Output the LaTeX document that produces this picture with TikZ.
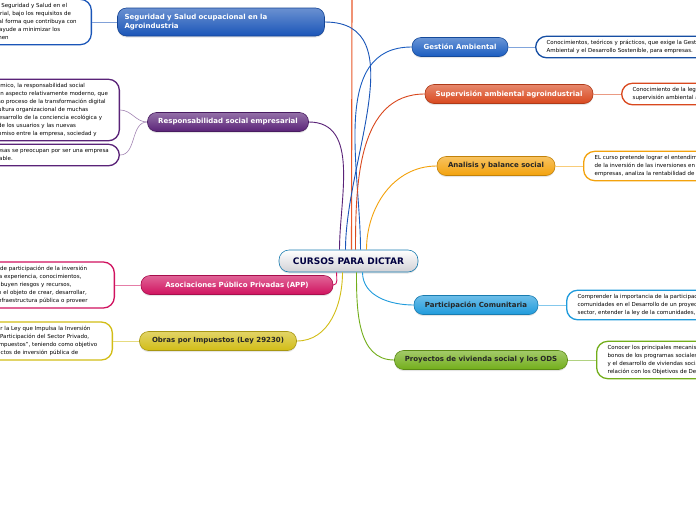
\documentclass[tikz,border=0pt]{standalone}
\usepackage{fontspec}
\setmainfont{DejaVu Sans}
\usetikzlibrary{shadows}
\definecolor{MMSegur}{HTML}{1A55B8}
\definecolor{MMResp}{HTML}{5A2378}
\definecolor{MMApp}{HTML}{D0125F}
\definecolor{MMObras}{HTML}{D2BD16}
\definecolor{MMGest}{HTML}{1A5CC0}
\definecolor{MMSuperv}{HTML}{D9481E}
\definecolor{MMAnal}{HTML}{F3A20C}
\definecolor{MMPart}{HTML}{1F9BDC}
\definecolor{MMProy}{HTML}{72AE1A}
\definecolor{MMTop}{HTML}{E8582A}
\tikzset{
  branch/.style={rounded corners=9pt,draw=#1!80!black,line width=0.6pt,
    top color=#1!65!white,bottom color=#1,text=white,
    font=\fontsize{7}{8.5}\selectfont\bfseries,inner sep=2pt,minimum height=19pt,
    drop shadow={opacity=0.2,shadow xshift=0pt,shadow yshift=-1.5pt}},
  darktext/.style={text=black!85},
  detail/.style={rounded corners=11pt,draw=#1,line width=1.3pt,fill=white,
    align=left,font=\fontsize{5.5}{8}\selectfont,inner xsep=11pt,inner ysep=4pt},
  leftdetail/.style={detail=#1,anchor=east,inner xsep=5pt},
  link/.style={#1,line width=0.9pt},
  sublink/.style={#1!55!white,line width=0.6pt},
}
\begin{document}
\begin{tikzpicture}[x=1pt,y=-1pt]
\clip (0,0) rectangle (696,520);
\fill[white] (0,0) rectangle (696,520);
% centre
\node[rounded corners=10pt,draw=MMPart!80!black,line width=0.6pt,top color=white,bottom color=blue!10!black!18,
  font=\fontsize{9}{10}\selectfont\bfseries,text=blue!25!black,minimum width=139pt,minimum height=22pt,
  drop shadow={opacity=0.2,shadow xshift=0pt,shadow yshift=-1.5pt}] (ctr) at (348.5,261) {CURSOS PARA DICTAR};
% right side
\node[branch=MMGest,minimum width=96pt] (gest) at (460,47) {Gestión Ambiental};
\node[branch=MMSuperv,minimum width=168pt] (superv) at (509,94) {Supervisión ambiental agroindustrial};
\node[branch=MMAnal,darktext,minimum width=118pt] (anal) at (496,166) {Analisis y balance social};
\node[branch=MMPart,darktext,minimum width=124pt] (part) at (476,305) {Participación Comunitaria};
\node[branch=MMProy,darktext,minimum width=173pt] (proy) at (481,360) {Proyectos de vivienda social y los ODS};
% left side
\node[branch=MMSegur,minimum width=207pt,minimum height=28pt,align=left,text width=193pt] (segur) at (221,22) {Seguridad y Salud ocupacional en la\\Agroindustria};
\node[branch=MMResp,minimum width=161pt] (resp) at (228,122) {Responsabilidad social empresarial};
\node[branch=MMApp,minimum width=192pt] (app) at (237,285) {Asociaciones Público Privadas (APP)};
\node[branch=MMObras,darktext,minimum width=157pt] (obras) at (218,341) {Obras por Impuestos (Ley 29230)};
% details
\node[detail=MMGest!85!black,anchor=west,minimum height=21pt] (gestD) at (535,47)
  {Conocimientos, teóricos y prácticos, que exige la Gestión\\Ambiental y el Desarrollo Sostenible, para empresas.};
\node[detail=MMSuperv,anchor=west,minimum height=20pt] (supervD) at (621,94)
  {Conocimiento de la legislación y\\supervisión ambiental agroindustrial.};
\node[detail=MMAnal,anchor=west,minimum height=27pt] (analD) at (583,166)
  {EL curso pretende lograr el entendimiento\\de la inversión de las inversiones en\\empresas, analiza la rentabilidad de};
\node[detail=MMPart,anchor=west,minimum height=28pt] (partD) at (566,305)
  {Comprender la importancia de la participación de las\\comunidades en el Desarrollo de un proyecto\\sector, entender la ley de la comunidades,};
\node[detail=MMProy,anchor=west,minimum height=35pt] (proyD) at (596,360)
  {Conocer los principales mecanismos\\bonos de los programas sociales\\y el desarrollo de viviendas sociales\\relación con los Objetivos de Desarrollo};
\node[leftdetail=MMSegur,text width=137pt,minimum height=38pt] (segurD) at (92,22)
  {Aplicar normas de Seguridad y Salud en el\\trabajo agroindustrial, bajo los requisitos de\\la normativa, de tal forma que contribuya con\\la empresa y que ayude a minimizar los\\riesgos que se tienen};
\node[leftdetail=MMResp,text width=172pt,minimum height=59pt] (respD) at (120,110)
  {En el contexto económico, la responsabilidad social\\empresarial es hoy un aspecto relativamente moderno, que\\se encuentra en pleno proceso de la transformación digital\\y del cambio de la cultura organizacional de muchas\\empresas, junto al desarrollo de la conciencia ecológica y\\las altas exigencias de los usuarios y las nuevas\\formas de un compromiso entre la empresa, sociedad y};
\node[leftdetail=MMResp,text width=172pt,minimum height=20pt] (respE) at (120,155)
  {Hoy en día las empresas se preocupan por ser una empresa\\socialmente responsable.};
\node[leftdetail=MMApp,text width=168pt,minimum height=46pt] (appD) at (115,285)
  {Son las modalidades de participación de la inversión\\privada que incorpora experiencia, conocimientos,\\tecnología, y se distribuyen riesgos y recursos,\\preferentemente, con el objeto de crear, desarrollar,\\mejorar y operar la infraestructura pública o proveer};
\node[leftdetail=MMObras,text width=166pt,minimum height=38pt] (obrasD) at (113,341)
  {Mecanismo regido por la Ley que Impulsa la Inversión\\Pública Regional con Participación del Sector Privado,\\llamada "Obras por Impuestos", teniendo como objetivo\\acelerar así los proyectos de inversión pública de};
% centre links
\coordinate (topEnd) at (352,-5);
\draw[link=MMTop,line width=1.1pt] ([xshift=3pt]ctr.north) -- (topEnd);
\draw[link=MMGest] ([xshift=12pt]ctr.north) to[out=90,in=180] (gest.west);
\draw[link=MMSuperv] ([xshift=7pt]ctr.north) to[out=90,in=180] (superv.west);
\draw[link=MMAnal] ([xshift=18pt]ctr.north) to[out=90,in=180] (anal.west);
\draw[link=MMPart] ([xshift=14pt]ctr.south) to[out=-90,in=180] (part.west);
\draw[link=MMProy] ([xshift=8pt]ctr.south) to[out=-90,in=180] (proy.west);
\draw[link=MMSegur] ([xshift=-3pt]ctr.north) to[out=90,in=0] (segur.east);
\draw[link=MMResp] ([xshift=-9pt]ctr.north) to[out=90,in=0] (resp.east);
\draw[link=MMApp] (app.east) to[out=0,in=-90] ([xshift=-12pt]ctr.south);
\draw[link=MMObras] (obras.east) to[out=0,in=-90] ([xshift=-6pt]ctr.south);
% detail links
\draw[sublink=MMGest] (gest.east) -- (gestD.west);
\draw[sublink=MMSuperv] (superv.east) -- (supervD.west);
\draw[sublink=MMAnal] (anal.east) -- (analD.west);
\draw[sublink=MMPart] (part.east) -- (partD.west);
\draw[sublink=MMProy] (proy.east) -- (proyD.west);
\draw[sublink=MMSegur] (segur.west) -- (segurD.east);
\draw[sublink=MMResp] (resp.west) to[out=180,in=0] (respD.east);
\draw[sublink=MMResp] (resp.west) to[out=180,in=0] (respE.east);
\draw[sublink=MMApp] (app.west) -- (appD.east);
\draw[sublink=MMObras] (obras.west) -- (obrasD.east);
\end{tikzpicture}
\end{document}
